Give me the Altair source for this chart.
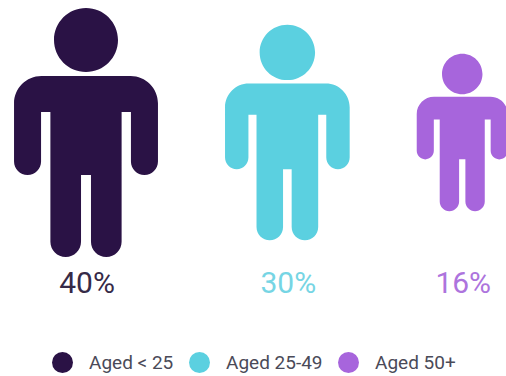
import altair as alt
import pandas as pd

groups = ["Aged < 25", "Aged 25-49", "Aged 50+"]
shares = [40, 30, 16]
labels = ["40%", "30%", "16%"]
colors = ["#2a1245", "#5bd0e0", "#a765dc"]
text_colors = ["#362a48", "#76d5e4", "#ad74dd"]

# Person glyph in symbol units, spanning -1..1 vertically
PERSON = (
    "M0,-1 A0.257,0.257 0 0 1 0,-0.486 A0.257,0.257 0 0 1 0,-1 Z "
    "M-0.358,-0.454 L0.358,-0.454 A0.22,0.22 0 0 1 0.578,-0.234 L0.578,0.233 "
    "A0.108,0.108 0 0 1 0.361,0.233 L0.361,-0.165 L0.286,-0.165 L0.286,0.877 "
    "A0.123,0.123 0 0 1 0.04,0.877 L0.04,0.341 L-0.04,0.341 L-0.04,0.877 "
    "A0.123,0.123 0 0 1 -0.286,0.877 L-0.286,-0.165 L-0.361,-0.165 L-0.361,0.233 "
    "A0.108,0.108 0 0 1 -0.578,0.233 L-0.578,-0.234 A0.22,0.22 0 0 1 -0.358,-0.454 Z"
)

# Figures scale by area, and sit side by side with an even gap between them
FULL_HEIGHT = 249
FULL_WIDTH = 144
LEFT_MARGIN = 14
GAP = 67

df = pd.DataFrame({"group": groups, "share": shares, "label": labels})
widths = FULL_WIDTH * (df["share"] / max(shares)) ** 0.5
df["centre"] = LEFT_MARGIN + (widths + GAP).cumsum().shift(fill_value=0) + widths / 2

x = alt.X("centre:Q", scale=alt.Scale(domain=[0, 506], range=[0, 506]), axis=None)

people = alt.Chart(df).mark_point(
    shape=PERSON, filled=True, opacity=1, strokeWidth=0
).encode(
    x=x,
    y=alt.value(132.5),
    size=alt.Size(
        "share:Q",
        scale=alt.Scale(domain=[0, max(shares)], range=[0, FULL_HEIGHT ** 2]),
        legend=None,
    ),
    color=alt.Color(
        "group:N",
        scale=alt.Scale(domain=groups, range=colors),
        legend=alt.Legend(
            title=None,
            orient="none",
            legendX=52,
            legendY=352,
            direction="horizontal",
            symbolType="circle",
            symbolSize=440,
            symbolOpacity=1,
            symbolStrokeWidth=0,
            labelFont="Roboto",
            labelFontSize=19,
            labelColor="#4a4a58",
            labelOffset=16,
            columnPadding=15,
        ),
    ),
)

percent = alt.Chart(df).mark_text(font="Roboto", fontSize=30, baseline="middle", dx=1).encode(
    x=x,
    y=alt.value(284),
    text="label:N",
    color=alt.Color("group:N", scale=alt.Scale(domain=groups, range=text_colors), legend=None),
)

chart = (people + percent).resolve_scale(color="independent").properties(
    width=506, height=376, padding=0, autosize=alt.AutoSizeParams(type="none")
).configure_view(stroke=None)

chart.save("out.html", embed_options={"renderer": "svg", "actions": False})
